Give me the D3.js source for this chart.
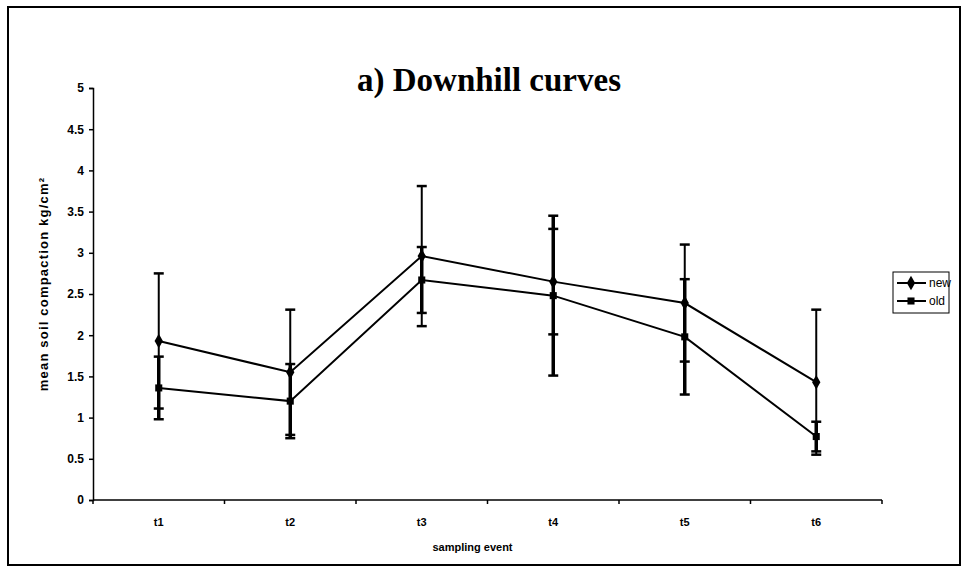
<!DOCTYPE html>
<html>
<head>
<meta charset="utf-8">
<script src="https://cdn.jsdelivr.net/npm/d3@7/dist/d3.min.js"></script>
<style>
  html, body { margin: 0; padding: 0; background: #fff; }
  svg { display: block; }
</style>
</head>
<body>
<svg id="chart" width="968" height="575"></svg>
<script>
// Sampling events and mean soil compaction (kg/cm²) for new and old downhill curves
const categories = ["t1", "t2", "t3", "t4", "t5", "t6"];
const newMeans = [1.93, 1.55, 2.96, 2.65, 2.39, 1.43];
const newErr   = [0.82, 0.76, 0.85, 0.64, 0.71, 0.88];
const oldMeans = [1.36, 1.20, 2.67, 2.48, 1.98, 0.77];
const oldErr   = [0.38, 0.45, 0.40, 0.97, 0.70, 0.18];
const yTicks = [0, 0.5, 1, 1.5, 2, 2.5, 3, 3.5, 4, 4.5, 5];
const yTickLabels = ["0", "0.5", "1", "1.5", "2", "2.5", "3", "3.5", "4", "4.5", "5"];
const seriesNames = ["new", "old"];

const svg = d3.select("#chart");
const plot = { left: 93, right: 882, top: 88, bottom: 500 };
const sans = "Liberation Sans, Arial, sans-serif";

// Outer frame
svg.append("rect")
  .attr("x", 8).attr("y", 7).attr("width", 952).attr("height", 558)
  .attr("fill", "none").attr("stroke", "#000").attr("stroke-width", 2);

const x = d3.scalePoint().domain(categories).range([plot.left, plot.right]).padding(0.5);
const y = d3.scaleLinear().domain([0, 5]).range([plot.bottom, plot.top]);

// Title
svg.append("text")
  .attr("x", 489).attr("y", 91)
  .attr("text-anchor", "middle")
  .attr("font-family", "Liberation Serif, 'Times New Roman', serif")
  .attr("font-weight", "bold").attr("font-size", 33)
  .text("a) Downhill curves");

// Y axis
const yAxis = d3.axisLeft(y).tickValues(yTicks)
  .tickFormat((d, i) => yTickLabels[i]).tickSize(4).tickPadding(5);
const gy = svg.append("g").attr("transform", `translate(${plot.left},0)`).call(yAxis);
gy.select(".domain").attr("stroke-width", 1.5);
gy.selectAll(".tick line").attr("stroke-width", 1.5);
gy.selectAll("text").attr("font-family", sans)
  .attr("font-weight", "bold").attr("font-size", 12);

// X axis: tick marks sit between categories, labels at category centres
const step = x.step();
const boundaries = d3.range(categories.length + 1).map(i => plot.left + i * step);
const gx = svg.append("g");
gx.append("line")
  .attr("x1", plot.left).attr("x2", plot.right)
  .attr("y1", plot.bottom).attr("y2", plot.bottom)
  .attr("stroke", "#000").attr("stroke-width", 1.5);
gx.selectAll("line.tk").data(boundaries).join("line").attr("class", "tk")
  .attr("x1", d => d).attr("x2", d => d)
  .attr("y1", plot.bottom).attr("y2", plot.bottom + 4)
  .attr("stroke", "#000").attr("stroke-width", 1.5);
gx.selectAll("text").data(categories).join("text")
  .attr("x", d => x(d)).attr("y", plot.bottom + 26)
  .attr("text-anchor", "middle")
  .attr("font-family", sans)
  .attr("font-weight", "bold").attr("font-size", 11)
  .text(d => d);

// Axis titles
svg.append("text")
  .attr("x", (plot.left + plot.right) / 2 - 15).attr("y", 551)
  .attr("text-anchor", "middle")
  .attr("font-family", sans)
  .attr("font-weight", "bold").attr("font-size", 11)
  .text("sampling event");

svg.append("text")
  .attr("transform", `translate(48,${(plot.top + plot.bottom) / 2 - 10}) rotate(-90)`)
  .attr("text-anchor", "middle")
  .attr("font-family", sans)
  .attr("font-weight", "bold").attr("font-size", 13)
  .attr("letter-spacing", 1.2)
  .text("mean soil compaction kg/cm²");

// Series
const series = [
  { name: seriesNames[0], means: newMeans, err: newErr, shape: d3.symbolDiamond, size: 60, barW: 2 },
  { name: seriesNames[1], means: oldMeans, err: oldErr, shape: d3.symbolSquare, size: 50, barW: 3.5 }
];

const line = d3.line().x((d, i) => x(categories[i])).y(d => y(d));

series.forEach(s => {
  const g = svg.append("g");
  // error bars
  s.means.forEach((m, i) => {
    const cx = x(categories[i]);
    const hi = y(m + s.err[i]), lo = y(m - s.err[i]);
    g.append("line").attr("x1", cx).attr("x2", cx).attr("y1", hi).attr("y2", lo)
      .attr("stroke", "#000").attr("stroke-width", s.barW);
    [hi, lo].forEach(yy => g.append("line")
      .attr("x1", cx - 5).attr("x2", cx + 5).attr("y1", yy).attr("y2", yy)
      .attr("stroke", "#000").attr("stroke-width", 2.5));
  });
  g.append("path").datum(s.means).attr("d", line)
    .attr("fill", "none").attr("stroke", "#000").attr("stroke-width", 2);
  g.selectAll("path.mk").data(s.means).join("path").attr("class", "mk")
    .attr("transform", (d, i) => `translate(${x(categories[i])},${y(d)})`)
    .attr("d", d3.symbol().type(s.shape).size(s.size))
    .attr("fill", "#000");
});

// Legend
const lg = svg.append("g");
lg.append("rect").attr("x", 893).attr("y", 272).attr("width", 56).attr("height", 41)
  .attr("fill", "#fff").attr("stroke", "#000").attr("stroke-width", 1);
series.forEach((s, i) => {
  const yy = 283 + i * 18;
  lg.append("line").attr("x1", 897).attr("x2", 926).attr("y1", yy).attr("y2", yy)
    .attr("stroke", "#000").attr("stroke-width", 2);
  lg.append("path").attr("transform", `translate(911,${yy})`)
    .attr("d", d3.symbol().type(s.shape).size(s.size)).attr("fill", "#000");
  lg.append("text").attr("x", 929).attr("y", yy + 4)
    .attr("font-family", sans).attr("fill", "#000")
    .attr("font-size", 12).text(s.name);
});
</script>
</body>
</html>
